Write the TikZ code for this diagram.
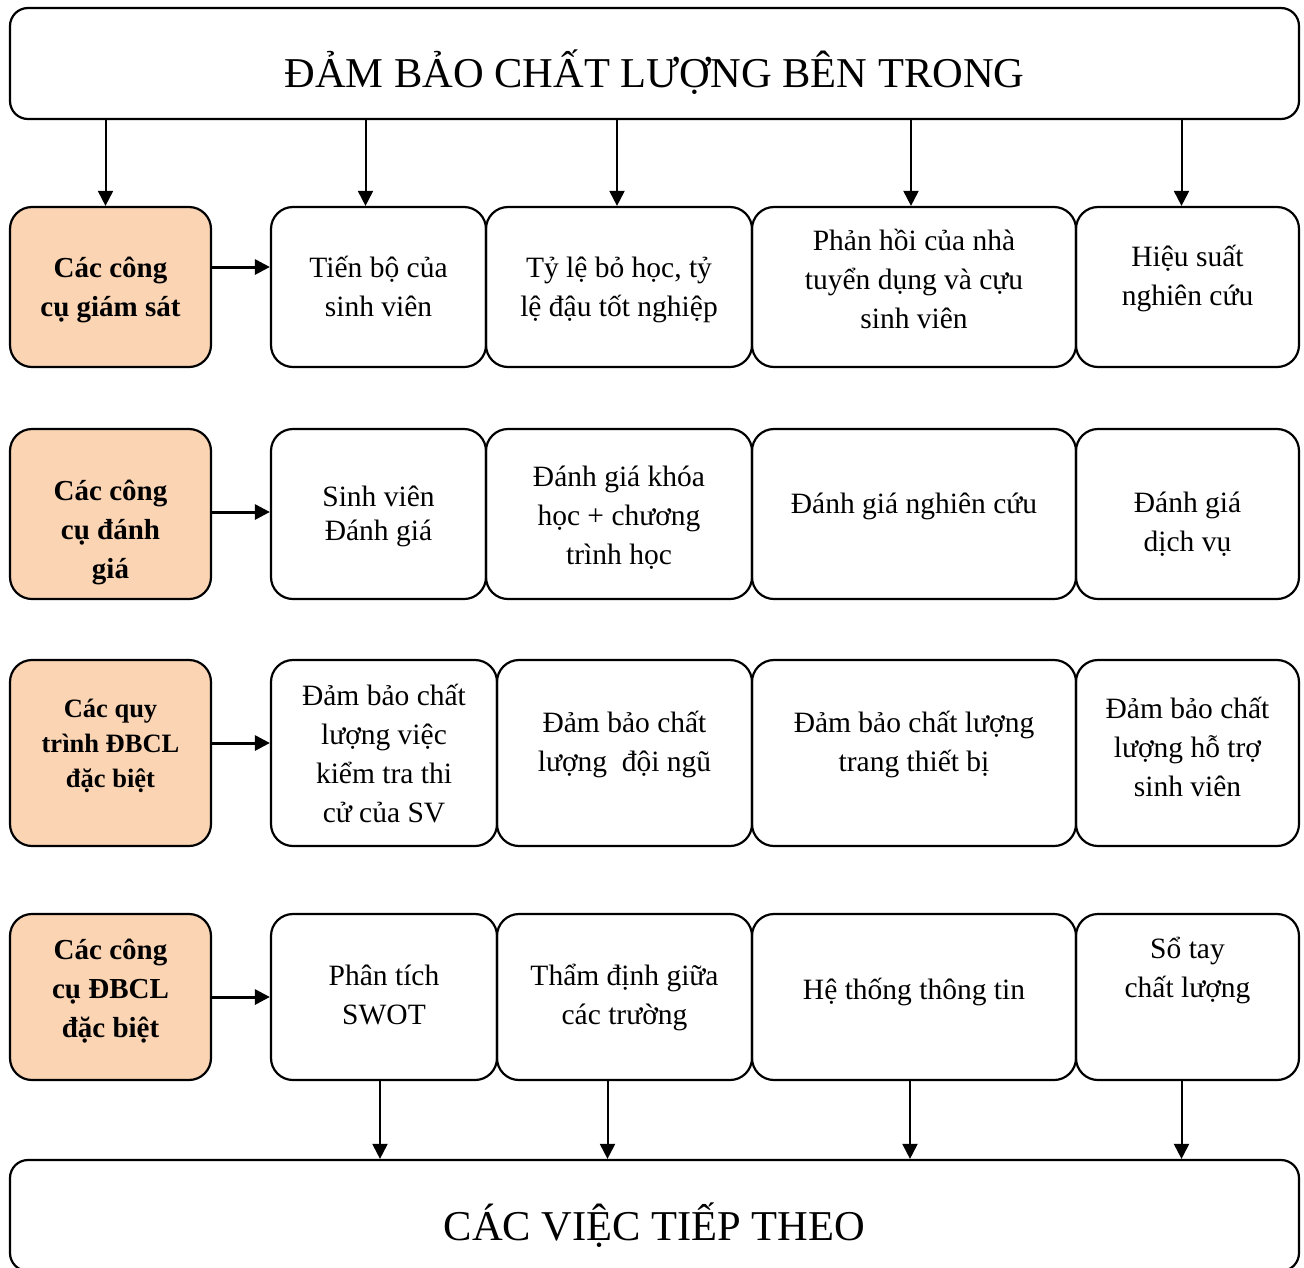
\documentclass[tikz,border=0pt]{standalone}
\usepackage{fontspec}
\setmainfont{Liberation Serif}
\usepackage{tikz}
\usetikzlibrary{arrows.meta, calc, positioning}
\definecolor{toolfill}{RGB}{251,212,180}

% lines of a box, first baseline raised by #1 over the box centre
\newcommand{\boxtext}[2]{\raisebox{#1}[0pt][0pt]{\begin{tabular}[t]{@{}c@{}}#2\end{tabular}}}

\tikzset{
  item/.style={draw, line width=2.2pt, rounded corners=22pt, align=center,
    inner sep=0pt, font=\fontsize{29.5}{39}\selectfont},
  tool/.style={item, fill=toolfill, minimum width=201,
    font=\bfseries\fontsize{29}{39}\selectfont},
  banner/.style={draw, line width=2.2pt, rounded corners=18pt, inner sep=0pt,
    minimum width=1289, minimum height=111, font=\fontsize{42.5}{50}\selectfont},
}

\begin{document}
\begin{tikzpicture}[x=1pt, y=-1pt, >={Triangle[length=15pt,width=15pt]}, line width=2pt]
  \useasboundingbox (0,0) rectangle (1304,1267);

  \node[banner] (top) at (654.5,63.5) {\boxtext{-23.5pt}{ĐẢM BẢO CHẤT LƯỢNG BÊN TRONG}};
  \node[banner] (bot) at (654.5,1215.5) {\boxtext{-24.5pt}{CÁC VIỆC TIẾP THEO}};

  % row 1
  \node[tool, minimum height=160] (g1) at (110.5,287) {\boxtext{10pt}{Các công\\cụ giám sát}};
  \node[item, minimum width=215, minimum height=160] (a1) at (378.5,287) {\boxtext{10pt}{Tiến bộ của\\sinh viên}};
  \node[item, minimum width=266, minimum height=160] (b1) at (619,287) {\boxtext{10pt}{Tỷ lệ bỏ học, tỷ\\lệ đậu tốt nghiệp}};
  \node[item, minimum width=324, minimum height=160] (c1) at (914,287) {\boxtext{37pt}{Phản hồi của nhà\\tuyển dụng và cựu\\sinh viên}};
  \node[item, minimum width=223, minimum height=160] (d1) at (1187.5,287) {\boxtext{21pt}{Hiệu suất\\nghiên cứu}};

  % row 2
  \node[tool, minimum height=170] (g2) at (110.5,514) {\boxtext{14pt}{Các công\\cụ đánh\\giá}};
  \node[item, minimum width=215, minimum height=170] (a2) at (378.5,514) {\boxtext{8pt}{Sinh viên\\[-5pt]Đánh giá}};
  \node[item, minimum width=266, minimum height=170] (b2) at (619,514) {\boxtext{28pt}{Đánh giá khóa\\học + chương\\trình học}};
  \node[item, minimum width=324, minimum height=170] (c2) at (914,514) {\boxtext{1pt}{Đánh giá nghiên cứu}};
  \node[item, minimum width=223, minimum height=170] (d2) at (1187.5,514) {\boxtext{2pt}{Đánh giá\\dịch vụ}};

  % row 3
  \node[tool, minimum height=186, font=\bfseries\fontsize{26.5}{35}\selectfont] (g3) at (110.5,753) {\boxtext{36pt}{Các quy\\trình ĐBCL\\đặc biệt}};
  \node[item, minimum width=226, minimum height=186] (a3) at (384,753) {\boxtext{48pt}{Đảm bảo chất\\lượng việc\\kiểm tra thi\\cử của SV}};
  \node[item, minimum width=255, minimum height=186] (b3) at (624.5,753) {\boxtext{21pt}{Đảm bảo chất\\lượng\ \ đội ngũ}};
  \node[item, minimum width=324, minimum height=186] (c3) at (914,753) {\boxtext{21pt}{Đảm bảo chất lượng\\trang thiết bị}};
  \node[item, minimum width=223, minimum height=186] (d3) at (1187.5,753) {\boxtext{35pt}{Đảm bảo chất\\lượng hỗ trợ\\sinh viên}};

  % row 4
  \node[tool, minimum height=166] (g4) at (110.5,997) {\boxtext{38pt}{Các công\\cụ ĐBCL\\đặc biệt}};
  \node[item, minimum width=226, minimum height=166] (a4) at (384,997) {\boxtext{12pt}{Phân tích\\SWOT}};
  \node[item, minimum width=255, minimum height=166] (b4) at (624.5,997) {\boxtext{12pt}{Thẩm định giữa\\các trường}};
  \node[item, minimum width=324, minimum height=166] (c4) at (914,997) {\boxtext{-2pt}{Hệ thống thông tin}};
  \node[item, minimum width=223, minimum height=166] (d4) at (1187.5,997) {\boxtext{39pt}{Sổ tay\\chất lượng}};

  \foreach \n/\dx in {g1/-5, a1/-13, b1/-2, c1/-3, d1/-6}
    \draw[->] ($(\n.north |- top.south)+(\dx,0)$) -- ($(\n.north)+(\dx,0)$);

  \foreach \n/\m/\dy in {g1/a1/20, g2/a2/2, g3/a3/10, g4/a4/0}
    \draw[->, line width=3pt] ([yshift=\dy pt]\n.east) -- ([yshift=\dy pt]\m.west);

  \foreach \n/\dx in {a4/-4, b4/-17, c4/-4, d4/-6}
    \draw[->] ($(\n.south)+(\dx,0)$) -- ($(\n.south |- bot.north)+(\dx,0)$);
\end{tikzpicture}
\end{document}
